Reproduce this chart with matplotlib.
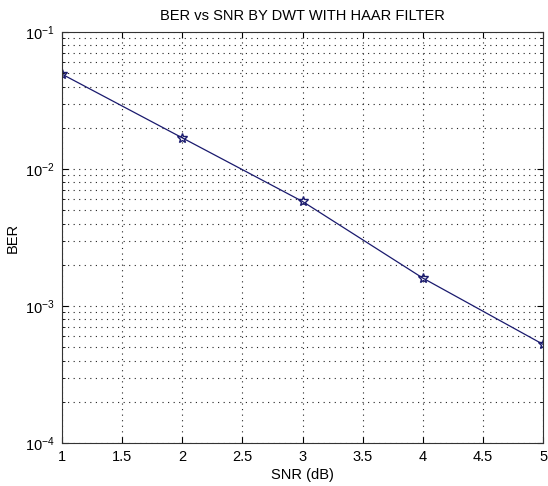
import matplotlib
matplotlib.use("Agg")
import matplotlib.pyplot as plt
from matplotlib.ticker import LogLocator, NullFormatter

plt.rcParams['font.family'] = ['Liberation Sans', 'DejaVu Sans']
plt.rcParams['mathtext.default'] = 'regular'
plt.rcParams['font.size'] = 10.5

# === data ===
snr_db = [1, 2, 3, 4, 5]
ber = [0.0493, 0.0169, 0.0058, 0.0016, 0.000525]
x_ticks = [1, 1.5, 2, 2.5, 3, 3.5, 4, 4.5, 5]
x_tick_labels = ["1", "1.5", "2", "2.5", "3", "3.5", "4", "4.5", "5"]

fig = plt.figure(figsize=(5.48, 4.86), dpi=100)
ax = fig.add_axes([0.1131, 0.0885, 0.8779, 0.8455])

ax.semilogy(snr_db, ber, '-*', color='#1a1a6e', linewidth=0.9,
            markersize=7, markerfacecolor='none', markeredgecolor='#1a1a6e',
            markeredgewidth=1.0)

ax.set_xlim(1, 5)
ax.set_ylim(1e-4, 1e-1)
ax.set_xticks(x_ticks)
ax.set_xticklabels(x_tick_labels)
ax.yaxis.set_major_locator(LogLocator(base=10))
ax.yaxis.set_minor_locator(LogLocator(base=10, subs=range(2, 10)))
ax.yaxis.set_minor_formatter(NullFormatter())

# MATLAB style sparse dotted grid
dots = (0, (1, 4))
ax.grid(True, which='major', linestyle=dots, color='#222222', linewidth=0.8)
ax.grid(True, which='minor', axis='y', linestyle=dots, color='#222222', linewidth=0.8)

ax.tick_params(which='both', direction='in', top=True, right=True, pad=5)
ax.tick_params(which='major', length=4)
ax.tick_params(which='minor', length=2)
for s in ax.spines.values():
    s.set_color('#333333')

ax.set_xlabel("SNR (dB)", labelpad=3)
ax.set_ylabel("BER", labelpad=4)
ax.set_title("BER vs SNR BY DWT WITH HAAR FILTER", pad=9, fontsize=10.5)

fig.savefig("out.png", dpi=100)
